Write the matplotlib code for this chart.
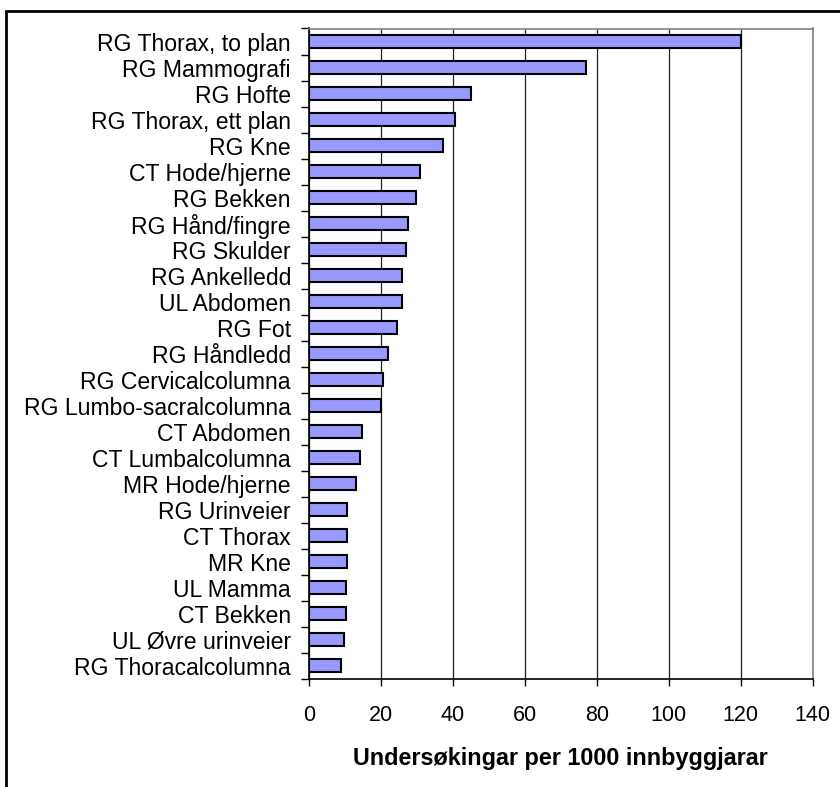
import matplotlib
matplotlib.use("Agg")
import matplotlib.pyplot as plt
from matplotlib.patches import Rectangle
from matplotlib.ticker import FixedLocator

categories = [
    "RG Thorax, to plan", "RG Mammografi", "RG Hofte", "RG Thorax, ett plan",
    "RG Kne", "CT Hode/hjerne", "RG Bekken", "RG Hånd/fingre", "RG Skulder",
    "RG Ankelledd", "UL Abdomen", "RG Fot", "RG Håndledd", "RG Cervicalcolumna",
    "RG Lumbo-sacralcolumna", "CT Abdomen", "CT Lumbalcolumna", "MR Hode/hjerne",
    "RG Urinveier", "CT Thorax", "MR Kne", "UL Mamma", "CT Bekken",
    "UL Øvre urinveier", "RG Thoracalcolumna",
]
values = [
    120.0, 77.0, 45.0, 40.6, 37.2, 30.8, 29.8, 27.4, 26.9, 25.9, 25.9, 24.4,
    22.0, 20.5, 20.0, 14.6, 14.2, 13.2, 10.7, 10.7, 10.7, 10.3, 10.3, 9.8, 8.9,
]
xticks = [0, 20, 40, 60, 80, 100, 120, 140]
xlabel = "Undersøkingar per 1000 innbyggjarar"

plt.rcParams['font.family'] = ['Liberation Sans', 'DejaVu Sans']

fig = plt.figure(figsize=(8.4, 7.87), dpi=100)
W, H = 840, 787
left, right, top, bottom = 309, 812.7, 28.5, 679
ax = fig.add_axes([left / W, 1 - bottom / H, (right - left) / W, (bottom - top) / H])

pos = list(range(len(categories)))
ax.barh(pos, values, height=0.5, color='#9999FF', edgecolor='black', linewidth=1.5, zorder=3)

ax.set_xlim(0, 140)
ax.set_ylim(len(categories) - 0.5, -0.5)
ax.set_xticks(xticks)
ax.set_xticklabels([str(t) for t in xticks], fontsize=15.5)
ax.tick_params(axis='x', direction='out', length=5, width=1, pad=14, color='black')

ax.set_yticks(pos)
ax.set_yticklabels(categories, fontsize=16.6)
ax.yaxis.set_minor_locator(FixedLocator([i - 0.5 for i in range(len(categories) + 1)]))
ax.tick_params(axis='y', which='major', length=0, pad=13)
ax.tick_params(axis='y', which='minor', direction='out', length=6, width=1, color='black')

ax.grid(axis='x', color='#202020', linewidth=0.9, zorder=1)
ax.set_axisbelow(True)

for s in ['top', 'right']:
    ax.spines[s].set_color('#808080')
    ax.spines[s].set_linewidth(1.2)
for s in ['left', 'bottom']:
    ax.spines[s].set_color('black')
    ax.spines[s].set_linewidth(1.2)

fig.text((left + right) / 2 / W, 1 - 758 / H, xlabel, fontsize=16.8, fontweight='bold',
         ha='center', va='center')

fig.patches.append(Rectangle((6 / W, -0.05), 1.1, 1 - 11 / H + 0.05, transform=fig.transFigure,
                             fill=False, edgecolor='black', linewidth=2, clip_on=False))

fig.savefig("out.png", dpi=100)
